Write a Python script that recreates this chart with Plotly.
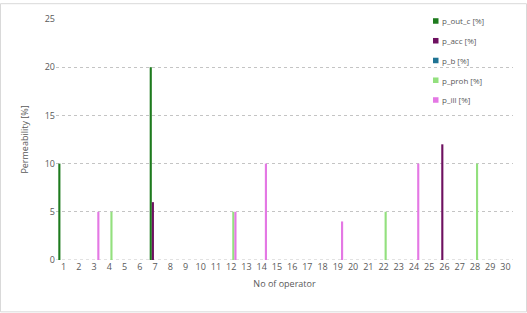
import plotly.graph_objects as go

operators = list(range(1, 31))
p_out_c = {1: 10, 7: 20}
p_acc = {7: 6, 26: 12}
p_b = {}
p_proh = {4: 5, 12: 5, 22: 5, 28: 10}
p_ill = {3: 5, 12: 5, 14: 10, 19: 4, 24: 10}

series = [
    ("p_out_c [%]", p_out_c, "#1e7b1e"),
    ("p_acc [%]", p_acc, "#6e1060"),
    ("p_b [%]", p_b, "#1f7393"),
    ("p_proh [%]", p_proh, "#93e07e"),
    ("p_ill [%]", p_ill, "#e478e4"),
]

L, R, T, B, W, H = 56, 14, 16, 53, 527, 313
pw, ph = W - L - R, H - T - B

def px(x):
    return (x - L) / pw

def py(y):
    return (H - B - y) / ph

fig = go.Figure()
for i, (name, vals, col) in enumerate(series):
    fig.add_trace(go.Bar(
        x=operators,
        y=[vals.get(o, 0) for o in operators],
        name=name,
        marker=dict(color=col, line=dict(width=0)),
        showlegend=False,
    ))

# manual legend (small square markers like the original)
for i, (name, vals, col) in enumerate(series):
    yc = 18 + 20 * i
    fig.add_shape(type="rect", xref="paper", yref="paper",
                  x0=px(433), x1=px(438.5), y0=py(yc + 2.8), y1=py(yc - 2.8),
                  fillcolor=col, line=dict(width=0))
    fig.add_annotation(x=px(440), y=py(yc), xref="paper", yref="paper",
                       text=name, showarrow=False, xanchor="left", yanchor="middle",
                       font=dict(size=8, color="#595959"))

fig.update_layout(
    width=W, height=H,
    margin=dict(l=L, r=R, t=T, b=B),
    paper_bgcolor="white", plot_bgcolor="white",
    barmode="group", bargap=0.3, bargroupgap=0,
    font=dict(family="Open Sans", size=9, color="#595959"),
    showlegend=False,
    xaxis=dict(range=[0.5, 30.5], tickmode="array", tickvals=operators,
               ticktext=[str(o) for o in operators], showgrid=False,
               showline=False, zeroline=False, ticks="",
               tickfont=dict(size=9, color="#595959"),
               title=dict(text="No of operator", font=dict(size=9, color="#595959"), standoff=8)),
    yaxis=dict(range=[0, 25], dtick=5, showgrid=True, gridcolor="#c4c4c4",
               griddash="dot", gridwidth=1, zeroline=False, showline=False,
               tickfont=dict(size=9, color="#595959"),
               title=dict(text="Permeability [%]", font=dict(size=9, color="#595959"), standoff=14)),
)
fig.add_shape(type="rect", xref="paper", yref="paper",
              x0=px(0.5), x1=px(W - 0.5), y0=py(H - 0.5), y1=py(0.5),
              line=dict(color="#d9d9d9", width=1))
fig.add_shape(type="line", xref="paper", yref="y", x0=0, x1=1, y0=0, y1=0,
              line=dict(color="#c4c4c4", width=1, dash="dot"), layer="below")

fig.write_html("out.html")
